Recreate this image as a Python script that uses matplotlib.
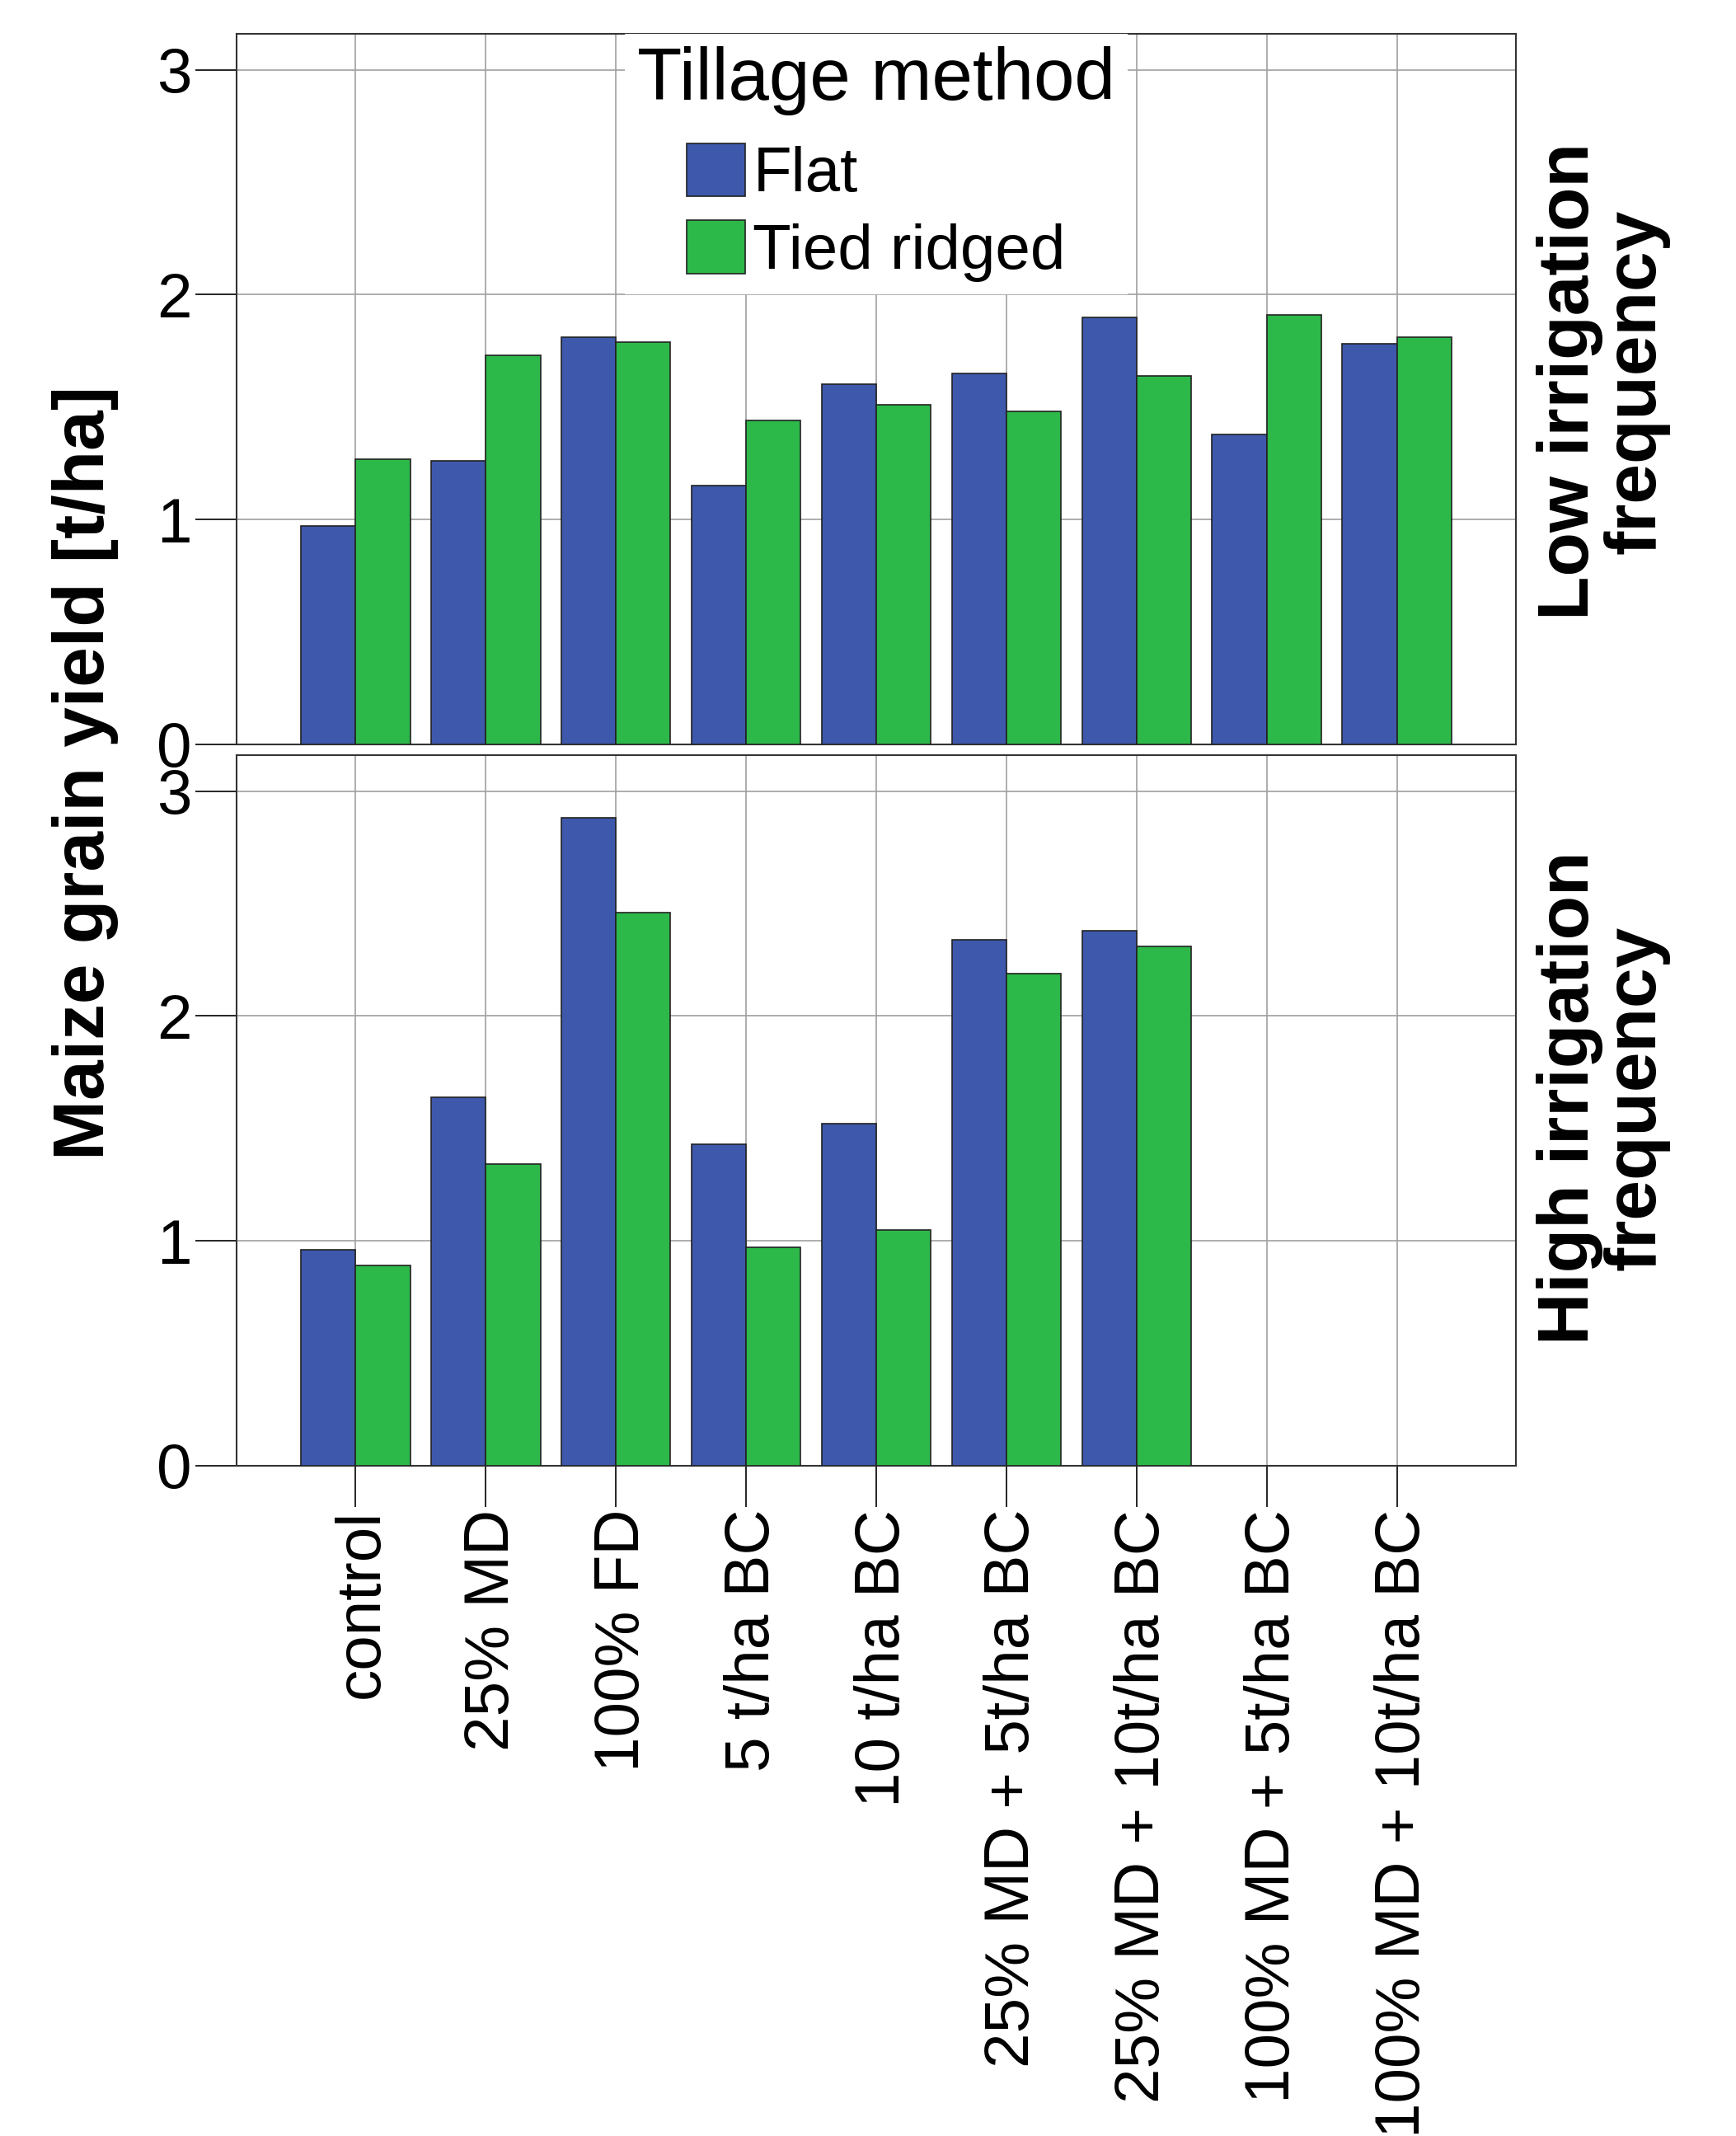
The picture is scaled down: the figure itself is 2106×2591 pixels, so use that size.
import numpy as np
import matplotlib.pyplot as plt
from matplotlib.transforms import ScaledTranslation

plt.rcParams['font.family'] = ['Liberation Sans', 'DejaVu Sans']

categories = ["control", "25% MD", "100% FD", "5 t/ha BC", "10 t/ha BC",
              "25% MD + 5t/ha BC", "25% MD + 10t/ha BC",
              "100% MD + 5t/ha BC", "100% MD + 10t/ha BC"]
series_names = ["Flat", "Tied ridged"]
panel_names = ["Low irrigation\nfrequency", "High irrigation\nfrequency"]

# maize grain yield [t/ha]
low_flat = [0.97, 1.26, 1.81, 1.15, 1.60, 1.65, 1.90, 1.38, 1.78]
low_tied = [1.27, 1.73, 1.79, 1.44, 1.51, 1.48, 1.64, 1.91, 1.81]
high_flat = [0.96, 1.64, 2.88, 1.43, 1.52, 2.34, 2.38, np.nan, np.nan]
high_tied = [0.89, 1.34, 2.46, 0.97, 1.05, 2.19, 2.31, np.nan, np.nan]

blue = '#3E58AC'
green = '#2DB84A'

fig = plt.figure(figsize=(21.06, 25.91), dpi=100)
ax1 = fig.add_axes([0.1363, 0.6515, 0.7369, 0.3327])
ax2 = fig.add_axes([0.1363, 0.3138, 0.7369, 0.3327])

x = np.arange(len(categories))
w = 0.42

for ax, flat, tied, name, ty in [(ax1, low_flat, low_tied, panel_names[0], 0.511),
                                 (ax2, high_flat, high_tied, panel_names[1], 0.518)]:
    ax.bar(x - w/2, flat, w, color=blue, edgecolor='#222222', lw=1.2,
           label=series_names[0], zorder=3)
    ax.bar(x + w/2, tied, w, color=green, edgecolor='#222222', lw=1.2,
           label=series_names[1], zorder=3)
    ax.set_xlim(-0.913, 8.913)
    ax.set_ylim(0, 3.16)
    ax.set_yticks([0, 1, 2, 3])
    ax.set_xticks(x)
    ax.grid(True, color='#a0a0a0', lw=1.2)
    ax.set_axisbelow(True)
    ax.tick_params(axis='y', length=36, width=1.2, pad=3.5, labelsize=55)
    ax.tick_params(axis='x', length=36, width=1.2, pad=2, labelsize=55)
    for s in ax.spines.values():
        s.set_color('#333333')
        s.set_linewidth(1.5)
    ax.text(1.016, ty, name, transform=ax.transAxes, rotation=90,
            ha='left', va='center', multialignment='center',
            fontsize=63, fontweight='bold', linespacing=1.0)

ax1.tick_params(axis='x', bottom=False, labelbottom=False)
ax2.set_xticklabels(categories, rotation=90)
shift = ScaledTranslation(0.08, 0, fig.dpi_scale_trans)
for lab in ax2.get_xticklabels():
    lab.set_transform(lab.get_transform() + shift)

leg = ax1.legend(title="Tillage method", loc='upper center', bbox_to_anchor=(0.5, 1.0),
                 borderaxespad=0, fontsize=55, title_fontsize=64, frameon=True,
                 fancybox=False, edgecolor='none', facecolor='white', framealpha=1,
                 handlelength=0.93, handleheight=0.93, handletextpad=0.12,
                 labelspacing=0.25, borderpad=0.2)
leg._legend_box.sep = 24

fig.text(0.049, 0.638, "Maize grain yield [t/ha]", rotation=90, ha='center',
         va='center', fontsize=63, fontweight='bold')

fig.savefig("out.png", dpi=100)
